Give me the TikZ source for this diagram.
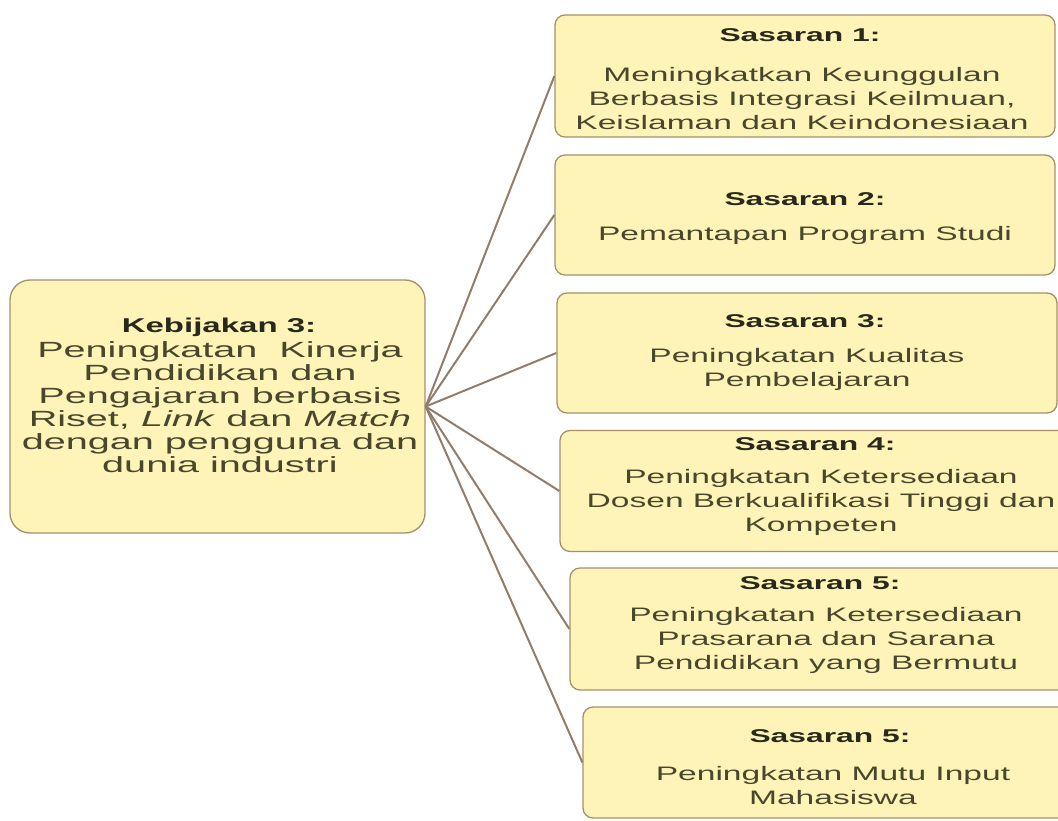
\documentclass[tikz,border=0pt]{standalone}
\usepackage{fontspec}
\usepackage{graphicx}
\setmainfont{Liberation Sans}
\definecolor{boxfill}{RGB}{254,244,184}
\definecolor{boxline}{RGB}{165,145,105}
\definecolor{linkcol}{RGB}{145,125,108}
\definecolor{ttlcol}{RGB}{40,40,28}
\definecolor{bodycol}{RGB}{72,70,45}
% horizontally widened text blocks
\newcommand{\wideblock}[2]{\scalebox{#1}[1]{\begin{tabular}{@{}c@{}}#2\end{tabular}}}
\tikzset{
  box/.style={draw=boxline, fill=boxfill, line width=1.3pt, rounded corners=10pt, inner sep=0pt},
  bigbox/.style={box, rounded corners=20pt},
  ttl/.style={inner sep=0pt, text=ttlcol, font=\bfseries\fontsize{18.5}{24}\selectfont},
  bodytxt/.style={inner sep=0pt, text=bodycol, font=\fontsize{19.5}{24}\selectfont},
  bigttl/.style={inner sep=0pt, text=ttlcol, font=\bfseries\fontsize{20}{23}\selectfont},
  bigbody/.style={inner sep=0pt, text=bodycol, font=\fontsize{22}{23}\selectfont},
  link/.style={draw=linkcol, line width=2pt}
}
\begin{document}
\begin{tikzpicture}[x=1pt,y=-1pt]
\useasboundingbox (0,0) rectangle (1058,821);

% policy box
\node[bigbox, minimum width=415pt, minimum height=253pt] (k) at (217.5,406.5) {};
\node[bigttl] (kt) at (219,328) {\wideblock{1.65}{Kebijakan 3:}};
\node[bigbody] (kb) at (220,410.5) {\wideblock{1.8}{Peningkatan\ \ Kinerja\\ Pendidikan dan\\ Pengajaran berbasis\\ Riset, \textit{Link} dan \textit{Match}\\ dengan pengguna dan\\ dunia industri}};

% target boxes
\node[box, minimum width=500pt, minimum height=122pt] (s1) at (805,76) {};
\node[ttl] (s1t) at (800,37) {\wideblock{1.72}{Sasaran 1:}};
\node[bodytxt] (s1b) at (802,101) {\wideblock{1.72}{Meningkatkan Keunggulan\\ Berbasis Integrasi Keilmuan,\\ Keislaman dan Keindonesiaan}};

\node[box, minimum width=500pt, minimum height=120pt] (s2) at (805,215) {};
\node[ttl] (s2t) at (805,201) {\wideblock{1.72}{Sasaran 2:}};
\node[bodytxt] (s2b) at (805,236) {\wideblock{1.72}{Pemantapan Program Studi}};

\node[box, minimum width=500pt, minimum height=120pt] (s3) at (807,353) {};
\node[ttl] (s3t) at (805,323) {\wideblock{1.72}{Sasaran 3:}};
\node[bodytxt] (s3b) at (807,370) {\wideblock{1.72}{Peningkatan Kualitas\\ Pembelajaran}};

\node[box, minimum width=516pt, minimum height=121pt] (s4) at (818,491) {};
\node[ttl] (s4t) at (815,446) {\wideblock{1.72}{Sasaran 4:}};
\node[bodytxt] (s4b) at (821,503) {\wideblock{1.72}{Peningkatan Ketersediaan\\ Dosen Berkualifikasi Tinggi dan\\ Kompeten}};

\node[box, minimum width=506pt, minimum height=122pt] (s5) at (823,629) {};
\node[ttl] (s5t) at (820,585) {\wideblock{1.72}{Sasaran 5:}};
\node[bodytxt] (s5b) at (826,641) {\wideblock{1.72}{Peningkatan Ketersediaan\\ Prasarana dan Sarana\\ Pendidikan yang Bermutu}};

\node[box, minimum width=496pt, minimum height=111pt] (s6) at (831,762.5) {};
\node[ttl] (s6t) at (830,738) {\wideblock{1.72}{Sasaran 5:}};
\node[bodytxt] (s6b) at (833,788) {\wideblock{1.72}{Peningkatan Mutu Input\\ Mahasiswa}};

% connectors from the policy to each target
\foreach \s in {s1,s2,s3,s4,s5,s6}
  \draw[link] (k.east) -- (\s.west);
\end{tikzpicture}
\end{document}
